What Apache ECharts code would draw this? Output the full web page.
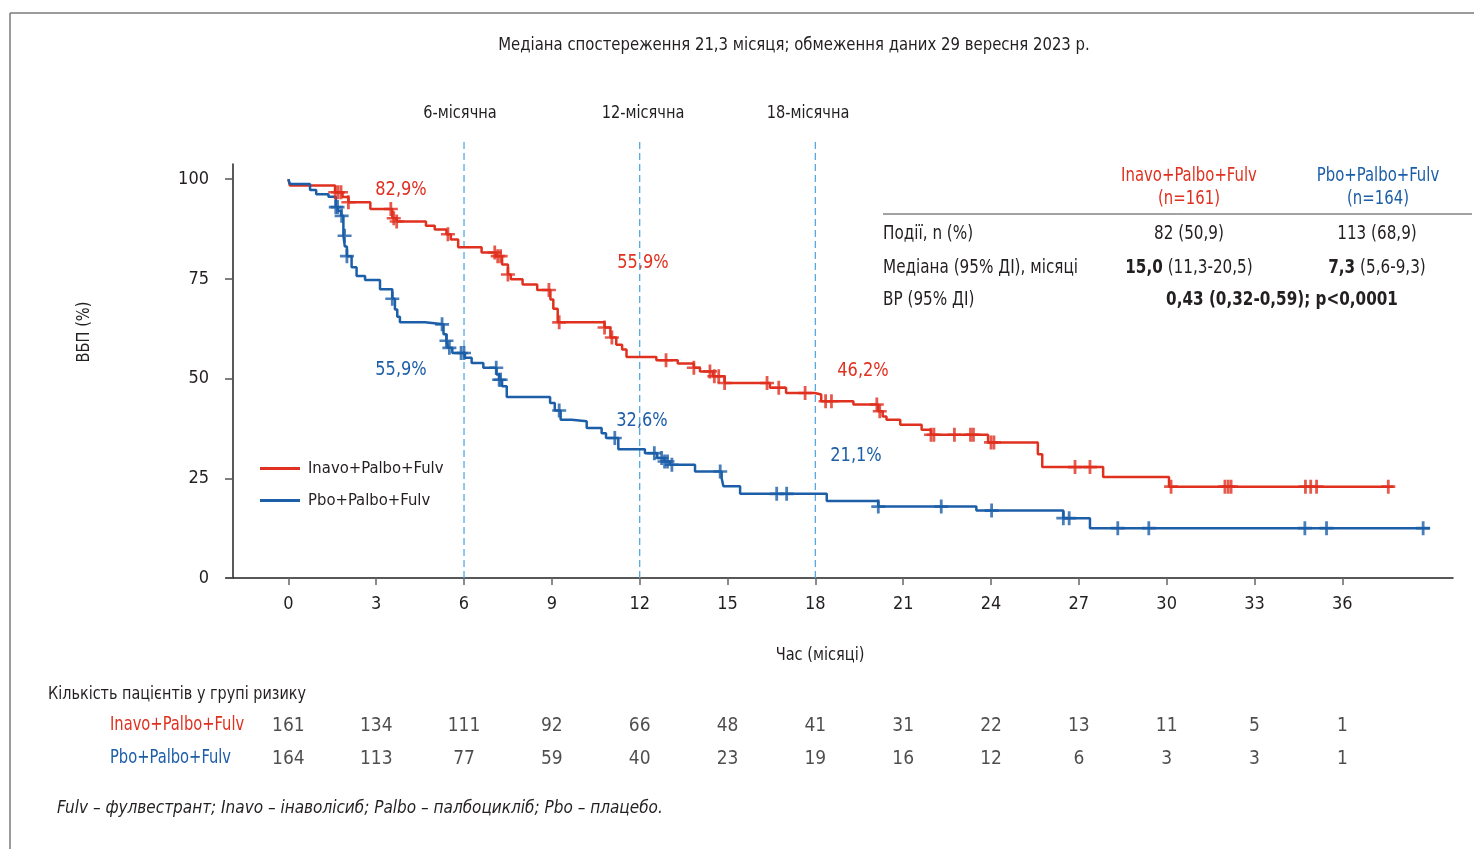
<!DOCTYPE html>
<html>
<head>
<meta charset="utf-8">
<script src="https://cdn.jsdelivr.net/npm/echarts@6/dist/echarts.min.js"></script>
<style>
html, body { margin: 0; padding: 0; background: #fff; }
#chart { width: 1474px; height: 849px; }
</style>
</head>
<body>
<div id="chart"></div>
<script>
var months = [0, 3, 6, 9, 12, 15, 18, 21, 24, 27, 30, 33, 36];
var milestones = [6, 12, 18];

// [month, PFS %] — step points
var inavoCurve = [
	[0, 100], [0.05, 98.4], [1.6, 96.7], [1.85, 95.5], [2.05, 94.2], [2.8, 92.5],
	[3.55, 90.2], [3.7, 89.4], [4.7, 88.3], [5.0, 87.4], [5.4, 86.2], [5.55, 84.9],
	[5.8, 82.9], [6.6, 81.6], [7.1, 80.7], [7.3, 78.6], [7.5, 76.1], [7.6, 74.9],
	[8.0, 73.6], [8.5, 72.2], [8.95, 69.8], [9.05, 67.5], [9.2, 64.1], [10.8, 62.8],
	[11.0, 60.3], [11.2, 58.5], [11.4, 57.3], [11.55, 55.4], [12.57, 54.6], [13.3, 53.8],
	[13.85, 52.7], [14.06, 51.8], [14.5, 50.6], [14.9, 48.9], [16.45, 47.7], [17.0, 46.4],
	[17.98, 46.0], [18.2, 44.3], [19.3, 43.5], [20.15, 41.8], [20.3, 40.5], [20.43, 39.7],
	[20.9, 38.4], [21.63, 37.2], [21.95, 35.9], [23.9, 34.0], [25.6, 31.0], [25.75, 27.8],
	[27.83, 25.3], [30.08, 22.9], [37.75, 22.9]
];
var pboCurve = [
	[0, 100], [0.05, 98.8], [0.74, 97.3], [0.95, 96.2], [1.37, 95.6], [1.62, 93.0],
	[1.7, 92.0], [1.8, 90.8], [1.88, 85.8], [1.93, 83.1], [2.0, 80.7], [2.16, 77.9],
	[2.33, 75.7], [2.62, 74.7], [3.13, 72.4], [3.55, 70.0], [3.64, 67.3], [3.72, 65.5],
	[3.81, 64.1], [4.67, 63.6], [5.3, 61.1], [5.4, 59.5], [5.46, 57.7], [5.6, 56.4],
	[6.03, 55.2], [6.26, 53.9], [6.66, 52.7], [7.11, 51.0], [7.2, 49.7], [7.3, 48.1],
	[7.46, 45.4], [8.94, 43.9], [9.1, 42.0], [9.3, 39.7], [9.68, 39.3], [10.19, 37.6],
	[10.7, 36.3], [10.85, 35.1], [11.27, 32.3], [12.18, 31.3], [12.6, 30.1], [12.85, 29.2],
	[13.03, 28.4], [13.89, 26.7], [14.8, 25.0], [14.86, 23.0], [15.43, 21.1], [18.39, 19.3],
	[20.15, 17.9], [23.5, 16.9], [26.47, 15.0], [27.38, 12.5], [38.99, 12.5]
];

// censoring times, months
var inavoCensor = [1.6, 1.7, 1.8, 2.05, 3.5, 3.6, 3.7, 5.45, 7.05, 7.15, 7.25, 7.5, 8.9, 9.25,
	10.8, 11.05, 12.9, 13.85, 14.4, 14.55, 14.7, 14.9, 16.35, 16.75, 17.65, 18.35, 18.55,
	20.1, 20.2, 21.95, 22.05, 22.75, 23.3, 23.4, 24.0, 24.1, 26.87, 27.38, 30.15, 31.99,
	32.1, 32.2, 34.74, 34.92, 35.12, 37.57];
var pboCensor = [1.62, 1.68, 1.82, 1.92, 2.0, 3.55, 5.25, 5.4, 5.5, 5.9, 6.0, 7.1, 7.2, 7.25,
	9.25, 11.15, 12.5, 12.75, 12.85, 12.95, 13.1, 14.75, 16.68, 17.02, 20.15, 22.3, 24.02,
	26.47, 26.67, 28.33, 29.39, 34.72, 35.46, 38.76];

var inavoRisk = [161, 134, 111, 92, 66, 48, 41, 31, 22, 13, 11, 5, 1];
var pboRisk = [164, 113, 77, 59, 40, 23, 19, 16, 12, 6, 3, 3, 1];

var RED = '#e0301f';
var BLUE = '#1c5ea8';
var DASH = '#55aae2';
var INK = '#231f20';
var FONT = '"Liberation Sans Narrow", "DejaVu Sans Condensed", "Liberation Sans", sans-serif';
var plus = 'path://M-1.4,-7H1.4V-1.3H7V1.3H1.4V7H-1.4V1.3H-7V-1.3H-1.4Z';
var dashTop = 109.8;

function survivalAt(curve, t) {
	var s = curve[0][1];
	for (var i = 0; i < curve.length; i++) {
		if (curve[i][0] <= t) s = curve[i][1];
	}
	return s;
}

function censorPoints(curve, times) {
	return times.map(function (t) { return [t, survivalAt(curve, t)]; });
}

function riskPoints(row, values) {
	return values.map(function (v, i) { return [months[i], row, v]; });
}

// the source font is condensed, so texts are squeezed horizontally
function text(x, y, str, opt) {
	opt = opt || {};
	return {
		type: 'text', x: x, y: y, rotation: opt.rotation || 0,
		scaleX: opt.squeeze || 0.9,
		style: {
			text: str, fill: opt.color || INK,
			font: (opt.style || '') + ' ' + (opt.weight || 'normal') + ' ' + (opt.size || 18) + 'px ' + FONT,
			textAlign: opt.align || 'left', textVerticalAlign: 'middle', rich: opt.rich
		}
	};
}

var boldRich = { b: { fontWeight: 'bold', fontSize: 19, fontFamily: FONT, fill: INK } };

var dashSeries = milestones.map(function (m) {
	return {
		name: 'm' + m, type: 'line', clip: false, symbol: 'none', silent: true,
		data: [[m, 0], [m, dashTop]],
		lineStyle: { color: DASH, width: 1.3, type: [7, 4] }, z: 1
	};
});

var chart = echarts.init(document.getElementById('chart'));
var option = {
	animation: false,
	textStyle: { fontFamily: FONT, color: INK },
	grid: [
		{ left: 226, right: 21, top: 164, bottom: 271 },
		{ left: 226, right: 21, top: 710, height: 66 }
	],
	legend: {
		data: ['Inavo+Palbo+Fulv', 'Pbo+Palbo+Fulv'],
		orient: 'vertical', left: 255, top: 455, itemGap: 15,
		itemWidth: 40, itemHeight: 3, icon: 'rect',
		textStyle: { fontSize: 16.5, color: INK, padding: [0, 0, 0, 3] }
	},
	xAxis: [{
		type: 'value', min: -2.13, max: 39.78, gridIndex: 0,
		splitLine: { show: false },
		axisLine: { onZero: false, lineStyle: { color: '#222', width: 1.5 } },
		axisTick: { customValues: months, length: 7, lineStyle: { color: '#666', width: 1.5 } },
		axisLabel: { customValues: months, fontSize: 18, color: INK, margin: 17 }
	}, {
		type: 'value', min: -2.13, max: 39.78, gridIndex: 1, show: false
	}],
	yAxis: [{
		type: 'value', min: 0, max: 103.8, interval: 25, gridIndex: 0, offset: -7,
		splitLine: { show: false },
		axisLine: { show: true, onZero: false, lineStyle: { color: '#222', width: 1.5 } },
		axisTick: { show: true, length: 8, lineStyle: { color: '#555', width: 1.5 } },
		axisLabel: { fontSize: 18, color: INK, margin: 24 }
	}, {
		type: 'category', data: ['inavo', 'pbo'], inverse: true, gridIndex: 1, show: false
	}],
	series: [{
		name: 'Inavo+Palbo+Fulv', type: 'line', step: 'end', symbol: 'none',
		data: inavoCurve, color: RED, lineStyle: { color: RED, width: 2.5 }, z: 3
	}, {
		name: 'Pbo+Palbo+Fulv', type: 'line', step: 'end', symbol: 'none',
		data: pboCurve, color: BLUE, lineStyle: { color: BLUE, width: 2.5 }, z: 3
	}, {
		name: 'inavoCensor', type: 'scatter', symbol: plus, symbolSize: 14,
		data: censorPoints(inavoCurve, inavoCensor), itemStyle: { color: RED }, z: 4
	}, {
		name: 'pboCensor', type: 'scatter', symbol: plus, symbolSize: 14,
		data: censorPoints(pboCurve, pboCensor), itemStyle: { color: BLUE }, z: 4
	}, {
		name: 'riskInavo', type: 'scatter', xAxisIndex: 1, yAxisIndex: 1, symbolSize: 0,
		data: riskPoints('inavo', inavoRisk),
		label: { show: true, position: 'inside', fontSize: 19, color: INK, formatter: function (p) { return p.value[2]; } }
	}, {
		name: 'riskPbo', type: 'scatter', xAxisIndex: 1, yAxisIndex: 1, symbolSize: 0,
		data: riskPoints('pbo', pboRisk),
		label: { show: true, position: 'inside', fontSize: 19, color: INK, formatter: function (p) { return p.value[2]; } }
	}].concat(dashSeries),
	graphic: [
		{ type: 'line', shape: { x1: 10, y1: 13, x2: 1474, y2: 13 }, style: { stroke: '#7a7a7a', lineWidth: 1.5 } },
		{ type: 'line', shape: { x1: 10, y1: 13, x2: 10, y2: 849 }, style: { stroke: '#7a7a7a', lineWidth: 1.5 } },
		text(794, 45, 'Медіана спостереження 21,3 місяця; обмеження даних 29 вересня 2023 р.', { align: 'center', squeeze: 0.92 }),
		text(460, 113, '6-місячна', { align: 'center' }),
		text(643, 113, '12-місячна', { align: 'center' }),
		text(808, 113, '18-місячна', { align: 'center' }),
		text(401, 190, '82,9%', { align: 'center', color: RED, size: 20 }),
		text(643, 263, '55,9%', { align: 'center', color: RED, size: 20 }),
		text(863, 371, '46,2%', { align: 'center', color: RED, size: 20 }),
		text(401, 370, '55,9%', { align: 'center', color: BLUE, size: 20 }),
		text(642, 421, '32,6%', { align: 'center', color: BLUE, size: 20 }),
		text(856, 456, '21,1%', { align: 'center', color: BLUE, size: 20 }),
		text(84, 332, 'ВБП (%)', { align: 'center', rotation: Math.PI / 2 }),
		text(820, 655, 'Час (місяці)', { align: 'center' }),
		// summary table
		text(1189, 176, 'Inavo+Palbo+Fulv', { align: 'center', color: RED, size: 19, squeeze: 0.87 }),
		text(1189, 199, '(n=161)', { align: 'center', color: RED, size: 19, squeeze: 0.87 }),
		text(1378, 176, 'Pbo+Palbo+Fulv', { align: 'center', color: BLUE, size: 19, squeeze: 0.87 }),
		text(1378, 199, '(n=164)', { align: 'center', color: BLUE, size: 19, squeeze: 0.87 }),
		{ type: 'line', shape: { x1: 883, y1: 214, x2: 1472, y2: 214 }, style: { stroke: '#444', lineWidth: 1 } },
		text(883, 234, 'Події, n (%)', { size: 19, squeeze: 0.89 }),
		text(1189, 234, '82 (50,9)', { align: 'center', size: 19, squeeze: 0.89 }),
		text(1377, 234, '113 (68,9)', { align: 'center', size: 19, squeeze: 0.89 }),
		text(883, 268, 'Медіана (95% ДІ), місяці', { size: 19, squeeze: 0.89 }),
		text(1189, 268, '{b|15,0} (11,3-20,5)', { align: 'center', size: 19, rich: boldRich, squeeze: 0.89 }),
		text(1377, 268, '{b|7,3} (5,6-9,3)', { align: 'center', size: 19, rich: boldRich, squeeze: 0.89 }),
		text(883, 300, 'ВР (95% ДІ)', { size: 19, squeeze: 0.89 }),
		text(1282, 300, '0,43 (0,32-0,59); p<0,0001', { align: 'center', size: 19, weight: 'bold', squeeze: 0.89 }),
		// risk table
		text(48, 694, 'Кількість пацієнтів у групі ризику', { size: 18, squeeze: 0.89 }),
		text(110, 725, 'Inavo+Palbo+Fulv', { color: RED, size: 19, squeeze: 0.86 }),
		text(110, 758, 'Pbo+Palbo+Fulv', { color: BLUE, size: 19, squeeze: 0.86 }),
		text(57, 809, 'Fulv – фулвестрант; Inavo – інаволісиб; Palbo – палбоцикліб; Pbo – плацебо.', { size: 17, style: 'italic', squeeze: 1 })
	]
};
chart.setOption(option);
window.onresize = function () {
	chart.resize();
};
</script>
</body>
</html>
